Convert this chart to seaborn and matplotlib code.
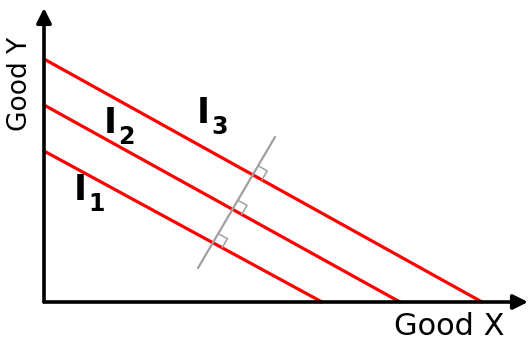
import numpy as np
import pandas as pd
import seaborn as sns
import matplotlib.pyplot as plt

sns.set_style('white')
plt.rcParams['font.family'] = ['DejaVu Sans']

# Indifference curves (units: 10 px), intercepts on each axis
curves = ['I1', 'I2', 'I3']
y_intercepts = [15.1, 19.7, 24.3]
x_intercepts = [27.8, 35.6, 43.8]

# gray perpendicular line, end points
perp_x = [15.4, 23.1]
perp_y = [3.4, 16.5]

# curve label positions (baseline of the "I") and subscripts
label_x = [3.0, 6.0, 15.3]
label_y = [10.2, 16.9, 17.9]
label_sub = ['1', '2', '3']

rows = []
for c, yi, xi in zip(curves, y_intercepts, x_intercepts):
    rows.append({'curve': c, 'x': 0, 'y': yi})
    rows.append({'curve': c, 'x': xi, 'y': 0})
df = pd.DataFrame(rows)

fig = plt.figure(figsize=(5.3, 3.41), dpi=100)
ax = fig.add_axes([0, 0, 1, 1])
ax.set_xlim(-4.4, 48.6)
ax.set_ylim(-3.9, 30.2)
ax.axis('off')

sns.lineplot(data=df, x='x', y='y', hue='curve', palette=['#ff0000'] * 3,
             sort=False, estimator=None, legend=False, linewidth=2.3, ax=ax)

# perpendicular line
ax.plot(perp_x, perp_y, color='#a0a0a0', lw=1.6, zorder=3)

# right angle markers where gray line crosses each curve
p0 = np.array([perp_x[0], perp_y[0]])
d = np.array([perp_x[1] - perp_x[0], perp_y[1] - perp_y[0]])
u_perp = d / np.linalg.norm(d)
s = 1.05
for yi, xi in zip(y_intercepts, x_intercepts):
    # line: x/xi + y/yi = 1 ; point p0 + t*d
    t = (1 - p0[0] / xi - p0[1] / yi) / (d[0] / xi + d[1] / yi)
    p = p0 + t * d
    u_red = np.array([xi, -yi]) / np.hypot(xi, yi)
    a = p + s * u_red
    b = a + s * u_perp
    c = p + s * u_perp
    ax.plot([a[0], b[0], c[0]], [a[1], b[1], c[1]], color='#a0a0a0', lw=1.1, zorder=3)

# axes with arrows
ax.annotate('', xy=(48.4, 0), xytext=(0, 0),
            arrowprops=dict(arrowstyle='-|>', lw=2.6, color='black', mutation_scale=22,
                            shrinkA=0, shrinkB=0))
ax.annotate('', xy=(0, 29.4), xytext=(0, 0),
            arrowprops=dict(arrowstyle='-|>', lw=2.6, color='black', mutation_scale=22,
                            shrinkA=0, shrinkB=0))

ax.text(40.5, -3.3, 'Good X', fontsize=22, ha='center', va='baseline', color='black')
ax.text(-2.4, 21.8, 'Good Y', fontsize=19, ha='center', va='center', rotation=90,
        color='black')

for x, y, sub in zip(label_x, label_y, label_sub):
    ax.text(x, y, 'I', fontsize=25, fontweight='bold', ha='left', va='baseline',
            color='black')
    ax.annotate(sub, xy=(x, y), xytext=(14, -11), textcoords='offset pixels',
                fontsize=17, fontweight='bold', ha='left', va='baseline', color='black')

fig.savefig('out.png', dpi=100)
